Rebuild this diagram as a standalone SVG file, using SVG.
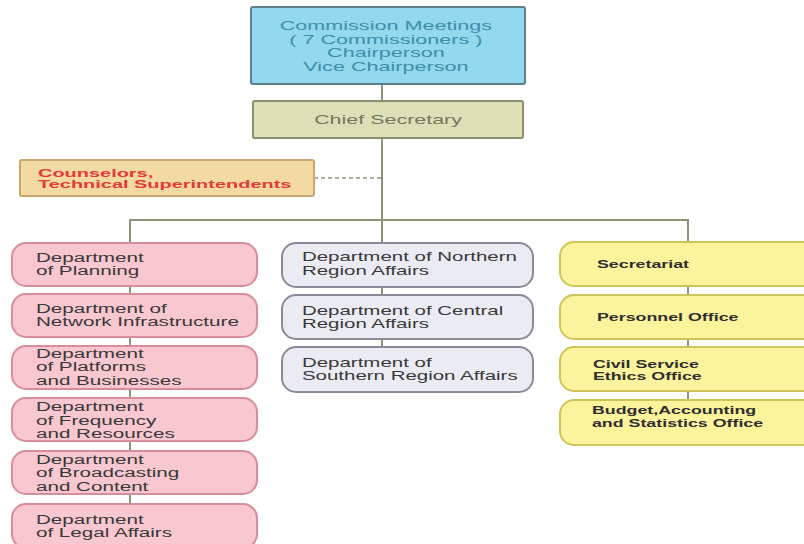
<svg xmlns="http://www.w3.org/2000/svg" width="804" height="544" viewBox="0 0 804 544">
<style>
text{font-family:"Liberation Sans",Arial,sans-serif;}
.c{fill:none;stroke:#8c9478;stroke-width:2;}
.d{fill:none;stroke:#8c9478;stroke-width:1.5;stroke-dasharray:4 3;}
.top{fill:#93d8ed;stroke:#5c7f8a;stroke-width:2;}
.chief{fill:#dde0b6;stroke:#8c8c6e;stroke-width:2;}
.cons{fill:#f3d9a2;stroke:#c9a56b;stroke-width:2;}
.pink{fill:#f8c7cf;stroke:#d98c9a;stroke-width:2;}
.grey{fill:#ebebf3;stroke:#8a8a99;stroke-width:2;}
.yel{fill:#fbf49c;stroke:#cfc45a;stroke-width:2;}
.tt{font-size:12px;fill:#3d8fa8;text-anchor:middle;}
.tc{font-size:12px;fill:#767660;text-anchor:middle;}
.tr{font-size:10.5px;font-weight:bold;fill:#e23a3a;}
.tl{font-size:12px;fill:#383838;}
.tm{font-size:12px;fill:#383838;}
.ty{font-size:11px;font-weight:bold;fill:#2e2e2e;}
</style>
<rect width="804" height="544" fill="#ffffff"/>
<g id="connectors">
<line class="c" x1="382" y1="84" x2="382" y2="100"/>
<line class="c" x1="382" y1="138" x2="382" y2="243"/>
<line class="d" x1="314" y1="178" x2="382" y2="178"/>
<polyline class="c" points="130,243 130,220 688,220 688,242"/>
<line class="c" x1="130" y1="286" x2="130" y2="294"/>
<line class="c" x1="130" y1="337" x2="130" y2="346"/>
<line class="c" x1="130" y1="389" x2="130" y2="398"/>
<line class="c" x1="130" y1="441" x2="130" y2="451"/>
<line class="c" x1="130" y1="494" x2="130" y2="504"/>
<line class="c" x1="382" y1="287" x2="382" y2="295"/>
<line class="c" x1="382" y1="339" x2="382" y2="347"/>
<line class="c" x1="688" y1="286" x2="688" y2="295"/>
<line class="c" x1="688" y1="339" x2="688" y2="347"/>
<line class="c" x1="688" y1="391" x2="688" y2="400"/>
</g>
<g id="commission">
<rect class="top" x="251" y="7" width="274" height="77" rx="2"/>
<g transform="scale(1.8,1)">
<text class="tt" x="214.4" y="30.5">Commission Meetings</text>
<text class="tt" x="214.4" y="44">( 7 Commissioners )</text>
<text class="tt" x="214.4" y="57.4">Chairperson</text>
<text class="tt" x="214.4" y="70.8">Vice Chairperson</text>
</g>
</g>
<g id="chief">
<rect class="chief" x="253" y="101" width="270" height="37" rx="2"/>
<g transform="scale(1.79,1)"><text class="tc" x="216.8" y="124.5">Chief Secretary</text></g>
</g>
<g id="counselors">
<rect class="cons" x="20" y="160" width="294" height="36" rx="2"/>
<g transform="scale(1.9,1)">
<text class="tr" x="20" y="176.8">Counselors,</text>
<text class="tr" x="20" y="188.5">Technical Superintendents</text>
</g>
</g>
<g id="planning">
<rect class="pink" x="12" y="243" width="245" height="43" rx="14"/>
<g transform="scale(1.72,1)"><text class="tl" x="20.9" y="262">Department</text><text class="tl" x="20.9" y="275.5">of Planning</text></g>
</g>
<g id="network">
<rect class="pink" x="12" y="294" width="245" height="43" rx="14"/>
<g transform="scale(1.72,1)"><text class="tl" x="20.9" y="313">Department of</text><text class="tl" x="20.9" y="326.5">Network Infrastructure</text></g>
</g>
<g id="platforms">
<rect class="pink" x="12" y="346" width="245" height="43" rx="14"/>
<g transform="scale(1.72,1)"><text class="tl" x="20.9" y="358">Department</text><text class="tl" x="20.9" y="371.5">of Platforms</text><text class="tl" x="20.9" y="385">and Businesses</text></g>
</g>
<g id="frequency">
<rect class="pink" x="12" y="398" width="245" height="43" rx="14"/>
<g transform="scale(1.72,1)"><text class="tl" x="20.9" y="411.5">Department</text><text class="tl" x="20.9" y="425">of Frequency</text><text class="tl" x="20.9" y="438.5">and Resources</text></g>
</g>
<g id="broadcasting">
<rect class="pink" x="12" y="451" width="245" height="43" rx="14"/>
<g transform="scale(1.72,1)"><text class="tl" x="20.9" y="464">Department</text><text class="tl" x="20.9" y="477.5">of Broadcasting</text><text class="tl" x="20.9" y="491">and Content</text></g>
</g>
<g id="legal">
<rect class="pink" x="12" y="504" width="245" height="44" rx="14"/>
<g transform="scale(1.72,1)"><text class="tl" x="20.9" y="524">Department</text><text class="tl" x="20.9" y="537.5">of Legal Affairs</text></g>
</g>
<g id="northern">
<rect class="grey" x="282" y="243" width="251" height="44" rx="14"/>
<g transform="scale(1.706,1)"><text class="tm" x="177" y="261.5">Department of Northern</text><text class="tm" x="177" y="275">Region Affairs</text></g>
</g>
<g id="central">
<rect class="grey" x="282" y="295" width="251" height="44" rx="14"/>
<g transform="scale(1.706,1)"><text class="tm" x="177" y="315">Department of Central</text><text class="tm" x="177" y="328.5">Region Affairs</text></g>
</g>
<g id="southern">
<rect class="grey" x="282" y="347" width="251" height="45" rx="14"/>
<g transform="scale(1.706,1)"><text class="tm" x="177" y="367">Department of</text><text class="tm" x="177" y="380.5">Southern Region Affairs</text></g>
</g>
<g id="secretariat">
<rect class="yel" x="560" y="242" width="270" height="44" rx="14"/>
<g transform="scale(1.62,1)"><text class="ty" x="368.5" y="268">Secretariat</text></g>
</g>
<g id="personnel">
<rect class="yel" x="560" y="295" width="270" height="44" rx="14"/>
<g transform="scale(1.62,1)"><text class="ty" x="368.5" y="321">Personnel Office</text></g>
</g>
<g id="ethics">
<rect class="yel" x="560" y="347" width="270" height="44" rx="14"/>
<g transform="scale(1.62,1)"><text class="ty" x="366" y="368">Civil Service</text><text class="ty" x="366" y="380.5">Ethics Office</text></g>
</g>
<g id="budget">
<rect class="yel" x="560" y="400" width="270" height="45" rx="14"/>
<g transform="scale(1.62,1)"><text class="ty" x="365.4" y="414">Budget,Accounting</text><text class="ty" x="365.4" y="427">and Statistics Office</text></g>
</g>
</svg>
